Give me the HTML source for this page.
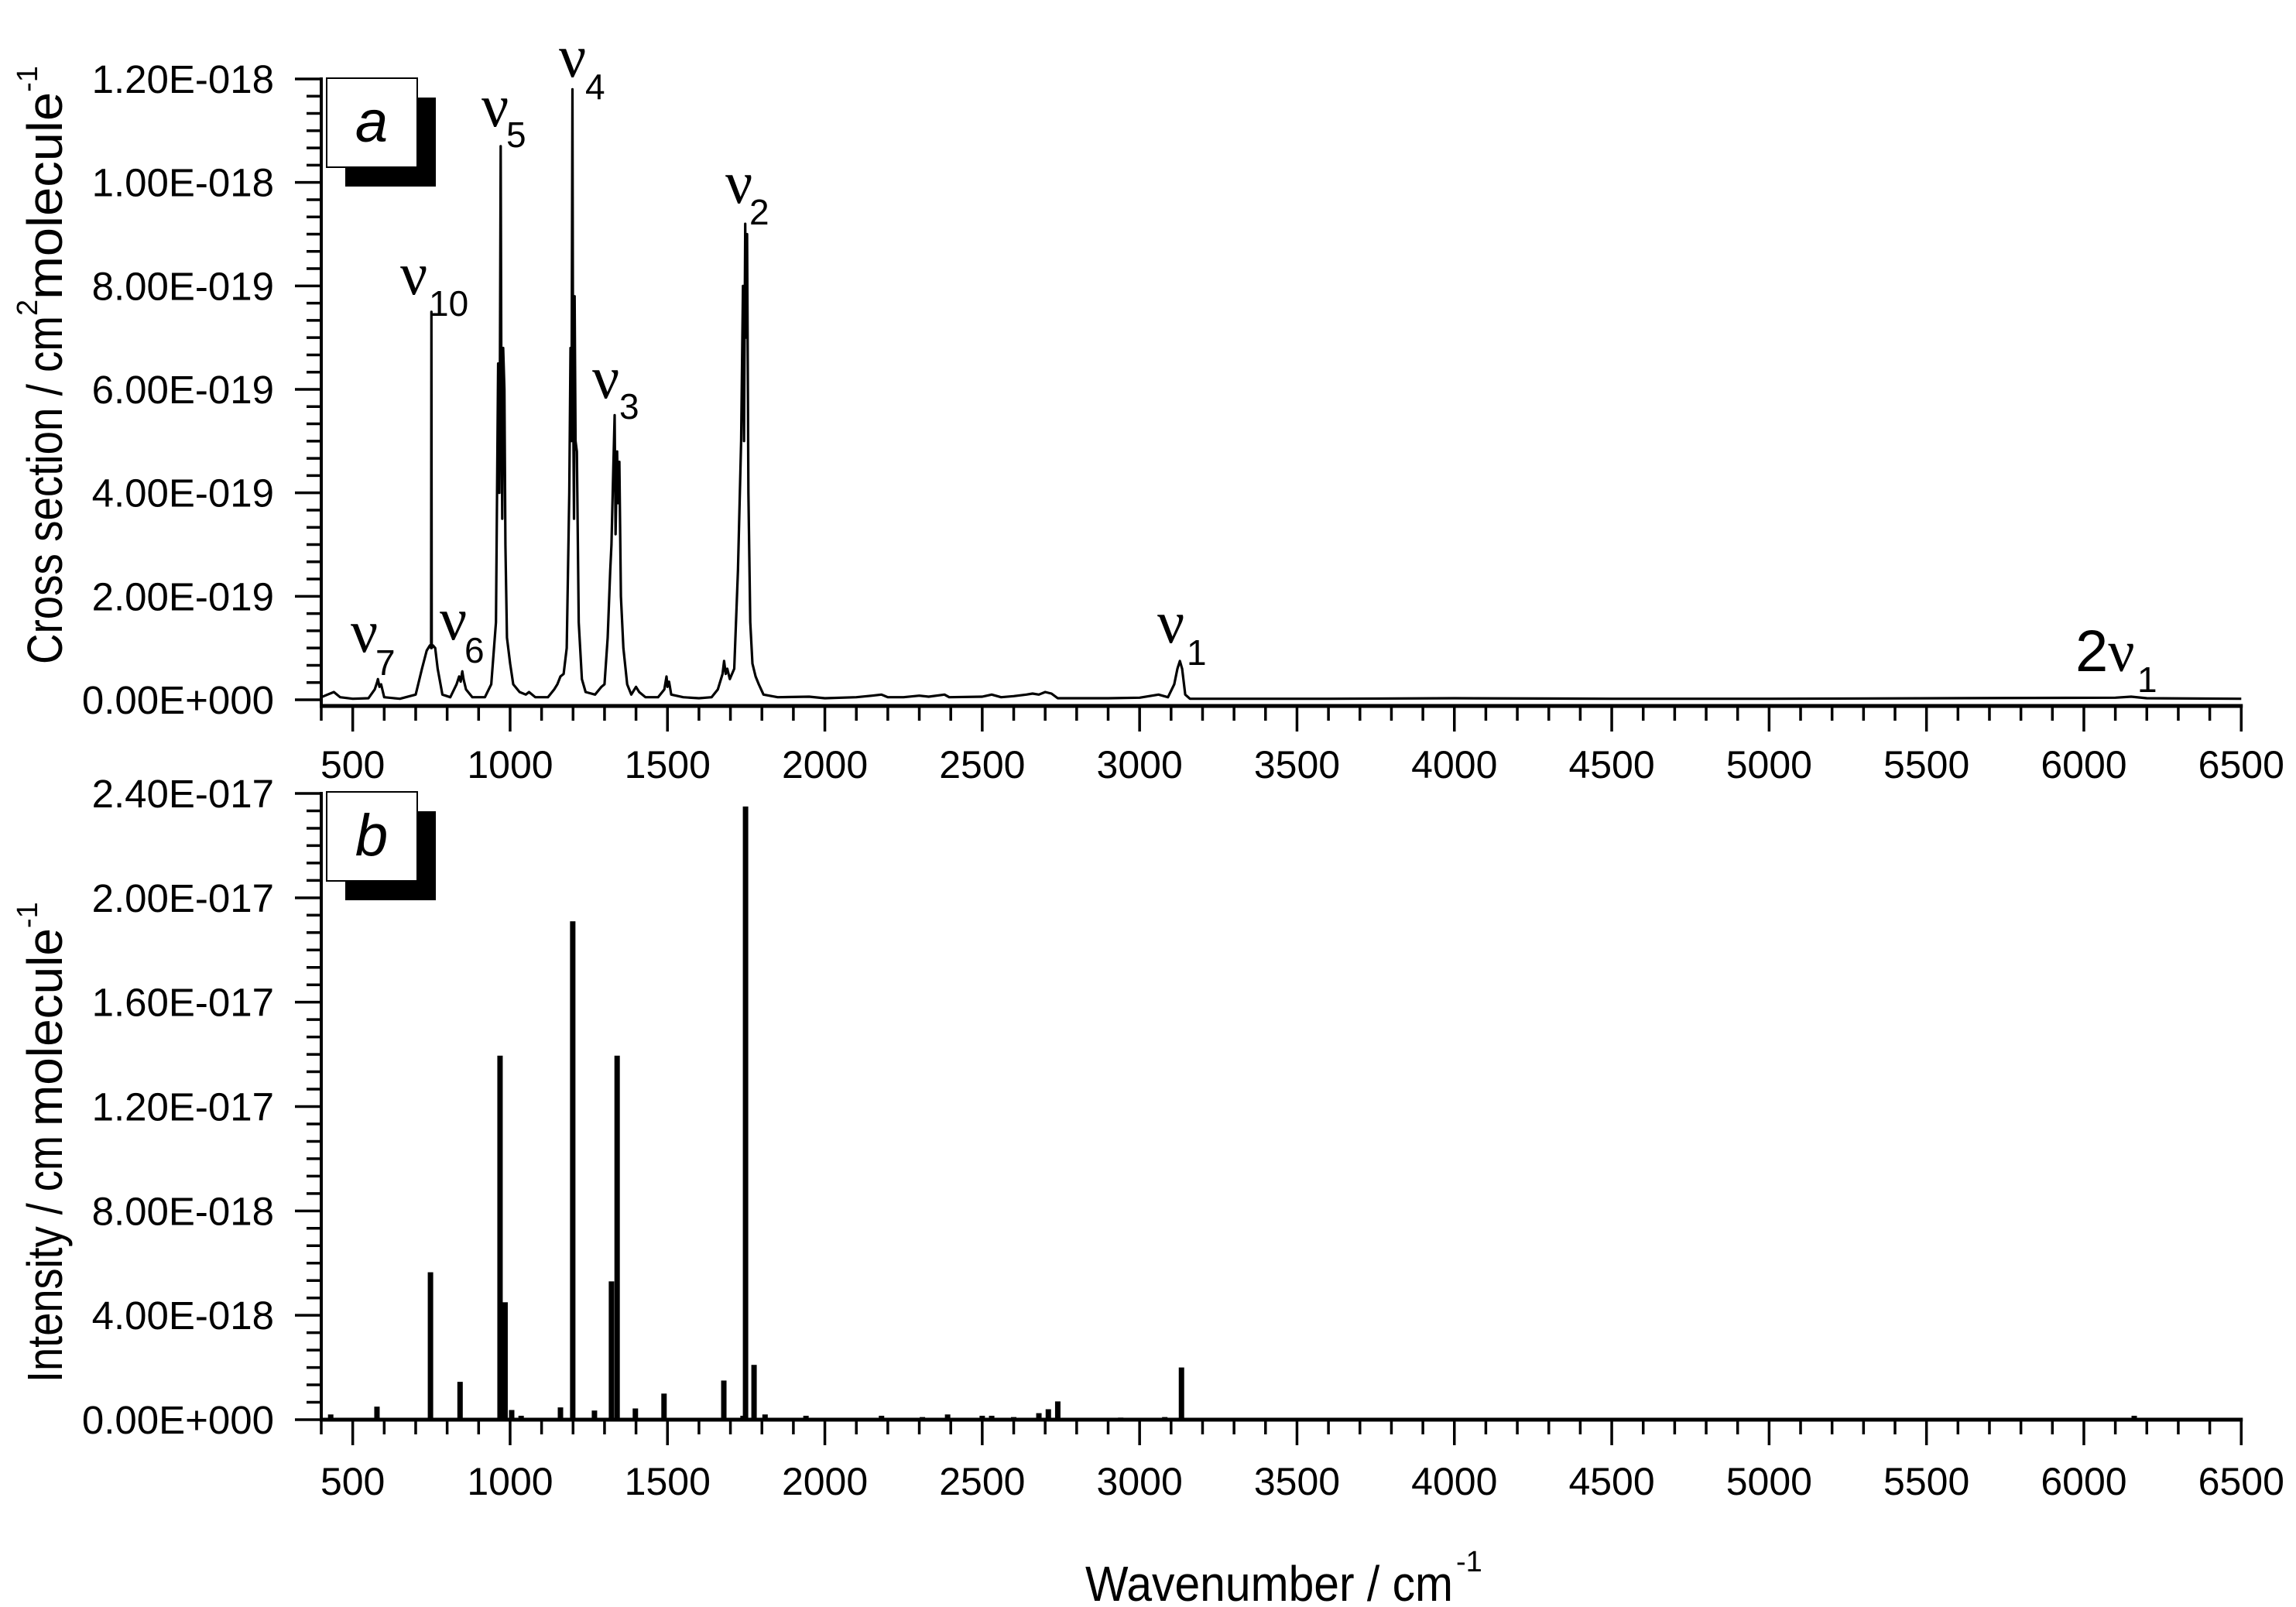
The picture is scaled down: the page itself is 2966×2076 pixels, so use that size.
<!DOCTYPE html>
<html><head><meta charset="utf-8"><style>
html,body{margin:0;padding:0;background:#fff;}
svg{display:block;}
text{font-family:"Liberation Sans",Arial,sans-serif;fill:#000;}
.nu{font-family:"Liberation Serif","DejaVu Serif",serif;}
</style></head>
<body>
<svg id="chart" width="2966" height="2076" viewBox="0 0 2966 2076" xmlns="http://www.w3.org/2000/svg">
<rect x="0" y="0" width="2966" height="2076" fill="#fff"/>
<g id="panelA"></g>
<g id="panelB"></g>
<g id="labels"></g>
</svg>
<script>
// Panel a: measured cross section spectrum (units of 1e-19 cm2 molecule-1)
const specWn = [400,420,440,460,500,550,570,578,580,585,590,600,650,700,720,735,745,749,750,751,755,762,770,785,810,830,838,843,848,852,860,880,920,940,955,962,966,968,970,972,975,978,982,985,990,1000,1010,1030,1050,1060,1080,1120,1140,1150,1160,1170,1180,1188,1192,1195,1198,1200,1203,1205,1208,1212,1218,1228,1240,1270,1290,1300,1310,1318,1322,1328,1332,1335,1340,1343,1347,1352,1360,1372,1385,1400,1410,1430,1470,1490,1497,1500,1505,1512,1550,1600,1640,1660,1675,1680,1685,1690,1698,1712,1724,1734,1740,1743,1747,1750,1753,1757,1763,1770,1780,1790,1805,1850,1950,2000,2100,2150,2180,2200,2250,2300,2330,2380,2395,2500,2530,2560,2600,2640,2660,2680,2700,2720,2740,2900,3000,3060,3090,3110,3120,3128,3135,3145,3160,3600,4000,4500,5000,6100,6150,6200,6500];
const specVal = [0.05,0.1,0.15,0.05,0.02,0.03,0.2,0.35,0.4,0.25,0.3,0.05,0.02,0.1,0.6,0.95,1.05,1.0,7.5,1.0,1.05,1.0,0.6,0.1,0.05,0.3,0.45,0.35,0.55,0.4,0.2,0.05,0.05,0.3,1.5,6.5,4.0,6.8,10.7,6.5,3.5,6.8,6.0,3.0,1.2,0.7,0.3,0.15,0.1,0.15,0.05,0.05,0.2,0.3,0.45,0.5,1.0,4.0,6.8,5.0,11.8,6.0,3.5,7.8,5.0,4.8,1.5,0.4,0.15,0.1,0.25,0.3,1.2,2.5,3.0,4.5,5.5,3.2,4.8,3.8,4.6,2.0,1.0,0.3,0.1,0.25,0.15,0.05,0.05,0.2,0.45,0.25,0.35,0.1,0.05,0.03,0.05,0.2,0.5,0.75,0.5,0.6,0.4,0.6,2.5,5.0,8.0,5.0,9.2,7.0,9.0,4.0,1.5,0.7,0.45,0.3,0.1,0.05,0.06,0.03,0.05,0.08,0.1,0.05,0.05,0.08,0.06,0.1,0.05,0.06,0.1,0.05,0.07,0.1,0.12,0.1,0.15,0.12,0.03,0.03,0.04,0.1,0.05,0.3,0.6,0.75,0.6,0.1,0.02,0.02,0.03,0.02,0.02,0.04,0.06,0.03,0.02];
// Panel b: calculated line intensities (units of 1e-18 cm molecule-1)
const lineWn = [430,577,747,841,870,968,984,1005,1035,1160,1199,1268,1322,1340,1398,1489,1679,1740,1748,1775,1810,1940,2180,2310,2390,2500,2530,2600,2680,2710,2740,2940,3080,3133,3490,3990,4330,6160];
const lineVal = [0.2,0.5,5.65,1.45,0.05,13.95,4.5,0.37,0.15,0.47,19.1,0.35,5.3,13.95,0.43,1.0,1.5,0.15,23.5,2.1,0.2,0.15,0.15,0.1,0.2,0.15,0.15,0.1,0.25,0.4,0.7,0.08,0.1,2.0,0.05,0.05,0.05,0.15];
const xTickLabels = ["500","1000","1500","2000","2500","3000","3500","4000","4500","5000","5500","6000","6500"];
const yTickLabelsA = ["0.00E+000","2.00E-019","4.00E-019","6.00E-019","8.00E-019","1.00E-018","1.20E-018"];
const yTickLabelsB = ["0.00E+000","4.00E-018","8.00E-018","1.20E-017","1.60E-017","2.00E-017","2.40E-017"];

const NS = "http://www.w3.org/2000/svg";
const X0 = 415, XPX = 0.4066;
function xScale(v){ return X0 + (v - 400) * XPX; }
const A = {top:102, zero:904, axisY:912, max:12};
const B = {top:1025, zero:1834, axisY:1834, max:24};
function yA(v){ return A.zero - v / A.max * (A.zero - A.top); }
function yB(v){ return B.zero - v / B.max * (B.zero - B.top); }
function mk(tag, attrs, parent){
  const e = document.createElementNS(NS, tag);
  for (const k in attrs) e.setAttribute(k, attrs[k]);
  parent.appendChild(e);
  return e;
}

function drawAxes(g, P, yLabels, yfn, labelY, name){
  const axX = X0;
  const ya = mk('line',{x1:axX,y1:P.top-2,x2:axX,y2:P.axisY+2,stroke:'#000','stroke-width':4},g);
  
  
  const n = yLabels.length - 1;
  for (let i=0;i<=n*6;i++){
    const yv = P.max * i/(n*6);
    const y = yfn(yv);
    const major = i%6===0;
    const t = mk('line',{x1:axX-(major?34:19),y1:y,x2:axX,y2:y,stroke:'#000','stroke-width':3.5},g);
    
    
  }
  yLabels.forEach((lab,i)=>{
    const y = yfn(P.max*i/n);
    const t = mk('text',{x:354,y:y+18,'text-anchor':'end','font-size':51},g);
    t.textContent = lab;
    
    
  });
  const xa = mk('line',{x1:axX-2,y1:P.axisY,x2:xScale(6500)+2,y2:P.axisY,stroke:'#000','stroke-width':5},g);
  
  
  for (let v=400; v<=6500; v+=100){
    const major = v%500===0;
    const x = xScale(v);
    const t = mk('line',{x1:x,y1:P.axisY,x2:x,y2:P.axisY+(major?33:19),stroke:'#000','stroke-width':3.5},g);
    
    
  }
  xTickLabels.forEach(lab=>{
    const t = mk('text',{x:xScale(+lab),y:labelY+18,'text-anchor':'middle','font-size':50},g);
    t.textContent = lab;
    
    
  });
}

function panelBox(g, y0, letter, name){
  const s = mk('rect',{x:446,y:y0+25,width:117,height:115,fill:'#000'},g);
  
  
  const r = mk('rect',{x:422,y:y0,width:117,height:115,fill:'#fff',stroke:'#000','stroke-width':2},g);
  
  
  const t = mk('text',{x:480,y:y0+82,'text-anchor':'middle','font-size':76,'font-style':'italic'},g);
  t.textContent = letter;
  
  
}

const gA = document.getElementById('panelA');
const gB = document.getElementById('panelB');
drawAxes(gA, A, yTickLabelsA, yA, 987, 'panel-a');
drawAxes(gB, B, yTickLabelsB, yB, 1913, 'panel-b');

let d = '';
specWn.forEach((w,i)=>{ d += (i?'L':'M') + xScale(w).toFixed(1) + ' ' + yA(specVal[i]).toFixed(1); });
const sp = mk('path',{d:d,fill:'none',stroke:'#000','stroke-width':3.2,'stroke-linejoin':'round'},gA);



lineWn.forEach((w,i)=>{
  const y = yB(lineVal[i]);
  const b = mk('rect',{x:xScale(w)-3.5,y:y,width:7,height:B.zero-y,fill:'#000'},gB);
  
  
});

panelBox(gA, 101, 'a', 'panel-a');
panelBox(gB, 1023, 'b', 'panel-b');

const tA = mk('text',{transform:'translate(80,858) rotate(-90)','font-size':64},gA);
tA.innerHTML = '<tspan textLength="450" lengthAdjust="spacingAndGlyphs">Cross section / cm</tspan><tspan font-size="38" dy="-32">2</tspan><tspan dy="32" textLength="268" lengthAdjust="spacingAndGlyphs">molecule</tspan><tspan font-size="38" dy="-32">-1</tspan>';


const tB = mk('text',{transform:'translate(80,1786) rotate(-90)','font-size':64},gB);
tB.innerHTML = '<tspan textLength="319" lengthAdjust="spacingAndGlyphs">Intensity / cm</tspan><tspan dx="12" textLength="256" lengthAdjust="spacingAndGlyphs">molecule</tspan><tspan font-size="38" dy="-32">-1</tspan>';


const tX = mk('text',{x:1402,y:2068,'font-size':64},gB);
tX.innerHTML = '<tspan textLength="475" lengthAdjust="spacingAndGlyphs">Wavenumber / cm</tspan><tspan font-size="38" dx="4" dy="-38">-1</tspan>';



const gL = document.getElementById('labels');
const bands = [
  ['4',722,99,756,128],['5',622,163,654,190],['10',517,380,554,408],['2',937,262,968,290],
  ['3',765,514,800,541],['7',453,842,485,872],['6',568,826,600,856],['1',1495,830,1533,859]
];
bands.forEach(bd=>{
  const n = mk('text',{x:bd[1],y:bd[2],'font-size':78,class:'nu'},gL);
  n.textContent = 'ν';
  
  
  const s = mk('text',{x:bd[3],y:bd[4],'font-size':46},gL);
  s.textContent = bd[0];
  
  
});
const t2 = mk('text',{x:2681,y:867,'font-size':76},gL);
t2.innerHTML = '2<tspan class="nu">ν</tspan>';


const t2s = mk('text',{x:2761,y:894,'font-size':46},gL);
t2s.textContent = '1';


</script>
</body></html>
